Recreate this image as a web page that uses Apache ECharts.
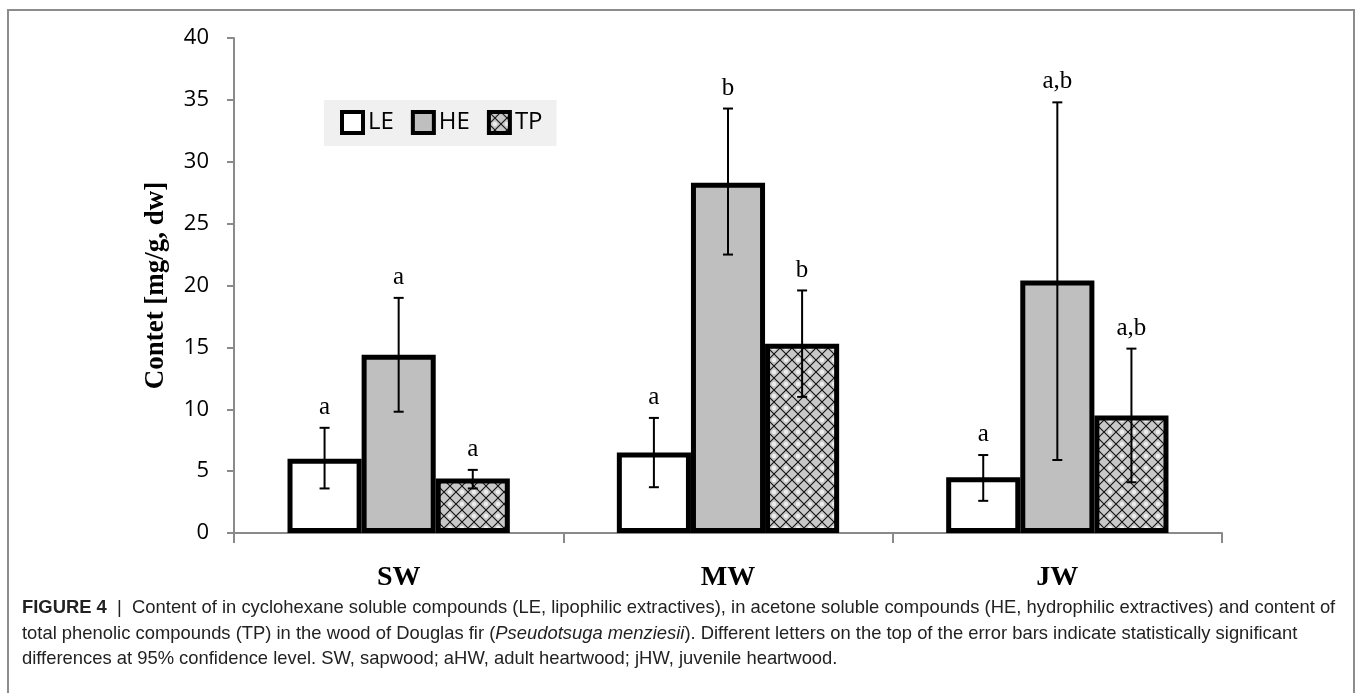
<!DOCTYPE html>
<html>
<head>
<meta charset="utf-8">
<script src="https://cdn.jsdelivr.net/npm/echarts@6/dist/echarts.min.js"></script>
<style>
html,body{margin:0;padding:0;background:#fff;}
#chart{width:1357px;height:693px;}
</style>
</head>
<body>
<div id="chart"></div>
<script>
// ---- data ----
var categories = ['SW', 'MW', 'JW'];
var yTicks = [0, 5, 10, 15, 20, 25, 30, 35, 40];
var seriesNames = ['LE', 'HE', 'TP'];
var leValues = [6.0, 6.5, 4.5];
var heValues = [14.4, 28.3, 20.4];
var tpValues = [4.4, 15.3, 9.5];
var leLow = [3.6, 3.7, 2.6];
var leHigh = [8.5, 9.3, 6.3];
var heLow = [9.8, 22.5, 5.9];
var heHigh = [19.0, 34.3, 34.8];
var tpLow = [3.6, 11.0, 4.1];
var tpHigh = [5.1, 19.6, 14.9];
var leLetters = ['a', 'a', 'a'];
var heLetters = ['a', 'b', 'a,b'];
var tpLetters = ['a', 'b', 'a,b'];
var yAxisName = 'Contet [mg/g, dw]';

// ---- pattern for TP ----
function makePattern() {
  var s = 12;
  var c = document.createElement('canvas');
  c.width = s; c.height = s;
  var ctx = c.getContext('2d');
  ctx.fillStyle = '#c8c8c8';
  ctx.fillRect(0, 0, s, s);
  ctx.fillStyle = '#ececec';
  ctx.beginPath(); ctx.arc(s / 2, 0, 2.2, 0, Math.PI * 2); ctx.fill();
  ctx.beginPath(); ctx.arc(s / 2, s, 2.2, 0, Math.PI * 2); ctx.fill();
  ctx.strokeStyle = '#111';
  ctx.lineWidth = 1.1;
  ctx.beginPath();
  ctx.moveTo(0, 0); ctx.lineTo(s, s);
  ctx.moveTo(s, 0); ctx.lineTo(0, s);
  ctx.stroke();
  return c;
}
var tpPattern = { image: makePattern(), repeat: 'repeat' };

var barGapPct = 0.325;
var errorSets = [
  { low: leLow, high: leHigh, letters: leLetters, idx: 0 },
  { low: heLow, high: heHigh, letters: heLetters, idx: 1 },
  { low: tpLow, high: tpHigh, letters: tpLetters, idx: 2 }
];

function errorSeries(set) {
  var data = categories.map(function (c, i) {
    return [i, set.low[i], set.high[i], set.letters[i]];
  });
  return {
    type: 'custom',
    z: 10,
    silent: true,
    data: data,
    encode: { x: 0, y: [1, 2] },
    renderItem: function (params, api) {
      var xi = api.value(0);
      var lo = api.coord([xi, api.value(1)]);
      var hi = api.coord([xi, api.value(2)]);
      var band = api.size([1, 0])[0];
      var bw = band * (1 - barGapPct) / 3;
      var x = lo[0] + (set.idx - 1) * bw;
      var cap = 5;
      var st = { stroke: '#000', lineWidth: 2 };
      return {
        type: 'group',
        children: [
          { type: 'line', shape: { x1: x, y1: lo[1], x2: x, y2: hi[1] }, style: st },
          { type: 'line', shape: { x1: x - cap, y1: hi[1], x2: x + cap, y2: hi[1] }, style: st },
          { type: 'line', shape: { x1: x - cap, y1: lo[1], x2: x + cap, y2: lo[1] }, style: st },
          { type: 'text', x: x, y: hi[1] - 8,
            style: { text: api.value(3), fill: '#000', font: '25px "Liberation Serif", serif',
                     align: 'center', verticalAlign: 'bottom' } }
        ]
      };
    }
  };
}

var barBorder = { borderColor: '#000', borderWidth: 5 };
var chart = echarts.init(document.getElementById('chart'));
chart.setOption({
  backgroundColor: '#fff',
  animation: false,
  grid: { left: 234, right: 135, top: 38, bottom: 160 },
  legend: {
    left: 324, top: 100,
    padding: [10, 14, 11, 16],
    backgroundColor: '#f0f0f0',
    itemWidth: 21, itemHeight: 21, itemGap: 17,
    icon: 'rect',
    data: seriesNames,
    itemStyle: { borderColor: '#000', borderWidth: 4 },
    textStyle: { fontFamily: '"Open Sans", sans-serif', fontSize: 24, color: '#000' }
  },
  xAxis: {
    type: 'category',
    data: categories,
    axisLine: { lineStyle: { color: '#8a8a8a', width: 2 } },
    axisTick: { show: true, length: 10, lineStyle: { color: '#8a8a8a', width: 2 } },
    axisLabel: { margin: 31, color: '#000', fontFamily: '"Liberation Serif", serif', fontWeight: 'bold', fontSize: 28 }
  },
  yAxis: {
    type: 'value',
    min: 0, max: 40, interval: 5,
    name: yAxisName,
    nameLocation: 'middle',
    nameGap: 64,
    nameTextStyle: { color: '#000', fontFamily: '"Liberation Serif", serif', fontWeight: 'bold', fontSize: 27 },
    axisLine: { show: true, lineStyle: { color: '#8a8a8a', width: 2 } },
    axisTick: { show: true, length: 7, lineStyle: { color: '#8a8a8a', width: 2 } },
    splitLine: { show: false },
    axisLabel: {
      margin: 25, color: '#000', fontFamily: '"Open Sans", sans-serif', fontSize: 22,
      formatter: function (v) { return yTicks.indexOf(v) >= 0 ? String(v) : ''; }
    }
  },
  series: [
    { name: 'LE', type: 'bar', data: leValues, barGap: '0%', barCategoryGap: (barGapPct * 100) + '%',
      itemStyle: Object.assign({ color: '#ffffff' }, barBorder) },
    { name: 'HE', type: 'bar', data: heValues, barGap: '0%', barCategoryGap: (barGapPct * 100) + '%',
      itemStyle: Object.assign({ color: '#bfbfbf' }, barBorder) },
    { name: 'TP', type: 'bar', data: tpValues, barGap: '0%', barCategoryGap: (barGapPct * 100) + '%',
      itemStyle: Object.assign({ color: tpPattern }, barBorder) },
    errorSeries(errorSets[0]),
    errorSeries(errorSets[1]),
    errorSeries(errorSets[2])
  ],
  graphic: [
    { type: 'rect', shape: { x: 8, y: 10, width: 1346, height: 720 },
      style: { fill: 'none', stroke: '#8c8c8c', lineWidth: 2 }, silent: true },
    { type: 'text', left: 22, top: 599,
      style: {
        text: '{b|FIGURE 4}{n|  |  Content of in cyclohexane soluble compounds (LE, lipophilic extractives), in acetone soluble compounds (HE, hydrophilic extractives) and content of}',
        rich: {
          b: { fontFamily: '"Liberation Sans", sans-serif', fontWeight: 'bold', fontSize: 18.4, fill: '#222' },
          n: { fontFamily: '"Liberation Sans", sans-serif', fontSize: 18.4, fill: '#222' }
        }
      } },
    { type: 'text', left: 22, top: 625,
      style: {
        text: '{n|total phenolic compounds (TP) in the wood of Douglas fir (}{i|Pseudotsuga menziesii}{n|). Different letters on the top of the error bars indicate statistically significant}',
        rich: {
          n: { fontFamily: '"Liberation Sans", sans-serif', fontSize: 18.4, fill: '#222' },
          i: { fontFamily: '"Liberation Sans", sans-serif', fontStyle: 'italic', fontSize: 18.4, fill: '#222' }
        }
      } },
    { type: 'text', left: 22, top: 650,
      style: {
        text: 'differences at 95% confidence level. SW, sapwood; aHW, adult heartwood; jHW, juvenile heartwood.',
        font: '18.4px "Liberation Sans", sans-serif', fill: '#222'
      } }
  ]
});
</script>
</body>
</html>
